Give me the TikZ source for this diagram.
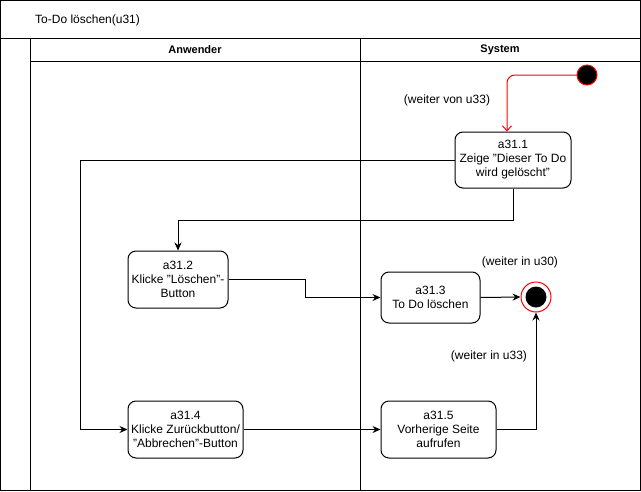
\documentclass[tikz,border=0pt]{standalone}
\usepackage{fontspec}
\setmainfont{Liberation Sans}
\usetikzlibrary{arrows.meta}

\tikzset{
  frame/.style={line width=1pt},
  action/.style={draw, line width=1pt, rounded corners=8pt, align=center,
    inner sep=0pt, font=\fontsize{12}{14}\selectfont},
  flow/.style={line width=1pt, -{Stealth[length=8pt,width=7pt]}},
  startflow/.style={line width=1pt, red, rounded corners=8pt,
    -{Straight Barb[length=5pt,width=9pt]}},
  note/.style={font=\fontsize{12}{14}\selectfont, inner sep=0pt},
  lane/.style={font=\bfseries\fontsize{11}{13}\selectfont, inner sep=0pt},
}

\begin{document}
\begin{tikzpicture}[x=1pt,y=-1pt]
\useasboundingbox (0,0) rectangle (641,491);

% pool frame, title row and lane headers
\draw[frame] (0.5,0.5) rectangle (640.5,490.5);
\draw[frame] (0.5,38.5) -- (640.5,38.5);
\draw[frame] (30.5,38.5) -- (30.5,490.5);
\draw[frame] (30.5,61.5) -- (640.5,61.5);
\draw[frame] (360.5,38.5) -- (360.5,490.5);

\node[note, anchor=west] (title) at (35,20) {To-Do löschen(u31)};
\node[lane] (laneA) at (195,50) {Anwender};
\node[lane] (laneS) at (500,50) {System};

% start and end states
\node[circle, draw=red, fill=black, line width=1pt, minimum size=20pt, inner sep=0pt] (start) at (587,75) {};
\node[circle, draw=red, line width=1pt, minimum size=30pt, inner sep=0pt] (end) at (536,297) {};
\node[circle, fill=black, minimum size=21pt, inner sep=0pt] (endcore) at (end) {};

% actions
\node[action, minimum width=116pt, minimum height=56pt] (a311) at (513,160)
  {a31.1\\Zeige "Dieser To Do\\wird gelöscht"};
\node[action, minimum width=100pt, minimum height=57pt] (a312) at (178,279.5)
  {a31.2\\Klicke "Löschen"-\\Button};
\node[action, minimum width=99pt, minimum height=51pt] (a313) at (430.5,297.5)
  {a31.3\\To Do löschen};
\node[action, minimum width=115pt, minimum height=57pt] (a314) at (185.5,429.5)
  {a31.4\\Klicke Zurückbutton/\\"Abbrechen"-Button};
\node[action, minimum width=115pt, minimum height=57pt] (a315) at (438.5,429.5)
  {a31.5\\Vorherige Seite\\aufrufen};

% continuation notes
\node[note] (fromU33) at (447,100) {(weiter von u33)};
\node[note] (toU30) at (520,262) {(weiter in u30)};
\node[note] (toU33) at (489,356) {(weiter in u33)};

% transitions
\coordinate (leftrail) at (80,0);
\draw[startflow] (start.west) -| ([xshift=-6pt]a311.north);
\draw[flow] (a311.south) -- ++(0,32) -| (a312.north);
\draw[flow] (a311.west) -- (a311.west -| leftrail) |- (a314.west);
\draw[flow] (a312.east) -- ++(77,0) |- (a313.west);
\draw[flow] (a313.east) -- (end.west);
\draw[flow] (a314.east) -- (a315.west);
\draw[flow] (a315.east) -| (end.south);
\end{tikzpicture}
\end{document}
